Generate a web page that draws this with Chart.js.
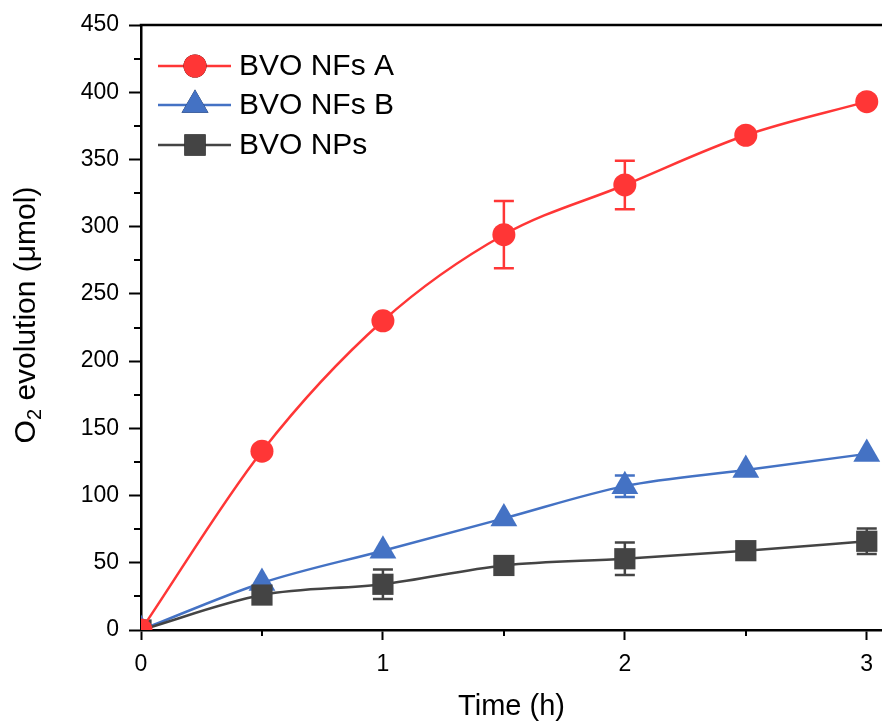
<!DOCTYPE html>
<html>
<head>
<meta charset="utf-8">
<script src="https://cdn.jsdelivr.net/npm/chart.js@4.4.1/dist/chart.umd.min.js"></script>
<style>
html,body{margin:0;padding:0;background:#fff;overflow:hidden;}
#wrap{width:882px;height:724px;position:relative;}
</style>
</head>
<body>
<div id="wrap"><canvas id="c" width="882" height="724"></canvas></div>
<script>
// ---- data ----
const timeH = [0, 0.5, 1, 1.5, 2, 2.5, 3];
const nfsA = [0, 133, 230, 294, 331, 368, 393];
const nfsAErr = [0, 0, 0, 25, 18, 0, 0];
const nfsB = [0, 35, 59, 83, 107, 119, 131];
const nfsBErr = [0, 0, 0, 0, 8, 0, 0];
const nps = [0, 26, 34, 48, 53, 59, 66];
const npsErr = [0, 0, 11, 0, 12, 0, 9.5];
const seriesNames = ['BVO NFs A', 'BVO NFs B', 'BVO NPs'];
const xTicks = [0, 1, 2, 3];
const xMinorTicks = [0.5, 1.5, 2.5];
const yTicks = [0, 50, 100, 150, 200, 250, 300, 350, 400, 450];
const yMinorTicks = [25, 75, 125, 175, 225, 275, 325, 375, 425];

const RED = '#FF3636', BLUE = '#4472C4', GREY = '#444444';
const FONT = '"Liberation Sans", Arial, sans-serif';

function pts(ys){ return timeH.map((x,i)=>({x:x,y:ys[i]})); }

const errPlugin = {
  id:'errbars',
  beforeDatasetsDraw(chart){
    const ctx = chart.ctx, xs = chart.scales.x, ys = chart.scales.y;
    chart.data.datasets.forEach(ds=>{
      if(!ds.errors) return;
      ctx.save();
      ctx.strokeStyle = ds.borderColor; ctx.lineWidth = 2.5;
      ds.data.forEach((p,i)=>{
        const e = ds.errors[i]; if(!e) return;
        const px = xs.getPixelForValue(p.x);
        const top = ys.getPixelForValue(p.y+e), bot = ys.getPixelForValue(p.y-e);
        ctx.beginPath();
        ctx.moveTo(px, top); ctx.lineTo(px, bot);
        ctx.moveTo(px-10, top); ctx.lineTo(px+10, top);
        ctx.moveTo(px-10, bot); ctx.lineTo(px+10, bot);
        ctx.stroke();
      });
      ctx.restore();
    });
  }
};

const framePlugin = {
  id:'frame',
  afterDraw(chart){
    const ctx = chart.ctx, a = chart.chartArea, xs = chart.scales.x, ys = chart.scales.y;
    ctx.save();
    ctx.strokeStyle = '#000'; ctx.lineWidth = 2.5;
    // top frame line
    ctx.beginPath(); ctx.moveTo(a.left-1.25, a.top); ctx.lineTo(chart.width, a.top); ctx.stroke();
    // minor ticks
    ctx.lineWidth = 2;
    yMinorTicks.forEach(v=>{
      const py = Math.round(ys.getPixelForValue(v));
      ctx.beginPath(); ctx.moveTo(a.left, py); ctx.lineTo(a.left-7, py); ctx.stroke();
    });
    xMinorTicks.forEach(v=>{
      const px = Math.round(xs.getPixelForValue(v));
      ctx.beginPath(); ctx.moveTo(px, a.bottom); ctx.lineTo(px, a.bottom+6); ctx.stroke();
    });
    // y title with subscript
    ctx.fillStyle = '#000';
    ctx.translate(27, 315);
    ctx.rotate(-Math.PI/2);
    const big = '30px ' + FONT, small = '20px ' + FONT;
    ctx.font = big; const w1 = ctx.measureText('O').width;
    const rest = ' evolution (\u03BCmol)';
    const w3 = ctx.measureText(rest).width;
    ctx.font = small; const w2 = ctx.measureText('2').width;
    const total = w1 + w2 + w3;
    let x0 = -total/2;
    ctx.textBaseline = 'middle';
    ctx.font = big; ctx.fillText('O', x0, 0); x0 += w1;
    ctx.font = small; ctx.fillText('2', x0, 8); x0 += w2;
    ctx.font = big; ctx.fillText(rest, x0, 0);
    ctx.restore();
    // legend
    const rows = [66, 105, 145];
    chart.data.datasets.forEach((ds,i)=>{
      const y = rows[i];
      ctx.save();
      ctx.strokeStyle = ds.borderColor; ctx.lineWidth = 2.5;
      ctx.beginPath(); ctx.moveTo(158, y); ctx.lineTo(231, y); ctx.stroke();
      Chart.helpers.drawPoint(ctx, {pointStyle: ds.pointStyle, radius: ds.pointRadius, rotation:0, borderWidth:0}, 195, y);
      ctx.fillStyle = ds.backgroundColor;
      ctx.fill();
      ctx.fillStyle = '#000';
      ctx.font = '30px ' + FONT;
      ctx.textBaseline = 'middle';
      ctx.fillText(seriesNames[i], 239, y+1);
      ctx.restore();
    });
  }
};

const common = {borderWidth:2.5, tension:0.4, cubicInterpolationMode:'monotone', pointBorderWidth:0, showLine:true, fill:false};

new Chart(document.getElementById('c'), {
  type:'scatter',
  data:{
    datasets:[
      Object.assign({}, common, {label:seriesNames[0], data:pts(nfsA), errors:nfsAErr, borderColor:RED, backgroundColor:RED, pointBackgroundColor:RED, pointStyle:'circle', pointRadius:11.5, order:0}),
      Object.assign({}, common, {label:seriesNames[1], data:pts(nfsB), errors:nfsBErr, borderColor:BLUE, backgroundColor:BLUE, pointBackgroundColor:BLUE, pointStyle:'triangle', pointRadius:15.5, order:2}),
      Object.assign({}, common, {label:seriesNames[2], data:pts(nps), errors:npsErr, borderColor:GREY, backgroundColor:GREY, pointBackgroundColor:GREY, pointStyle:'rect', pointRadius:15, order:1})
    ]
  },
  options:{
    responsive:false, animation:false, devicePixelRatio:1,
    layout:{autoPadding:false, padding:{top:25, right:0, left:0, bottom:0}},
    plugins:{legend:{display:false}, tooltip:{enabled:false}},
    scales:{
      x:{
        type:'linear', min:0, max:3.063,
        afterBuildTicks(s){ s.ticks = xTicks.map(v=>({value:v})); },
        afterFit(s){ s.height = 94; s.paddingRight = 0; s.paddingLeft = 0; },
        border:{display:true, color:'#000', width:2.5},
        grid:{drawOnChartArea:false, drawTicks:true, tickLength:10, tickWidth:2, tickColor:'#000'},
        ticks:{color:'#000', font:{family:FONT, size:23}, padding:11, maxRotation:0},
        title:{display:true, text:'Time (h)', color:'#000', font:{family:FONT, size:29}, padding:{top:10, bottom:0}}
      },
      y:{
        type:'linear', min:0, max:450,
        afterBuildTicks(s){ s.ticks = yTicks.map(v=>({value:v})); },
        afterFit(s){ s.width = 141; s.paddingTop = 0; s.paddingBottom = 0; },
        border:{display:true, color:'#000', width:2.5},
        grid:{drawOnChartArea:false, drawTicks:true, tickLength:12, tickWidth:2, tickColor:'#000'},
        ticks:{color:'#000', font:{family:FONT, size:23}, padding:10}
      }
    }
  },
  plugins:[errPlugin, framePlugin]
});
</script>
</body>
</html>
